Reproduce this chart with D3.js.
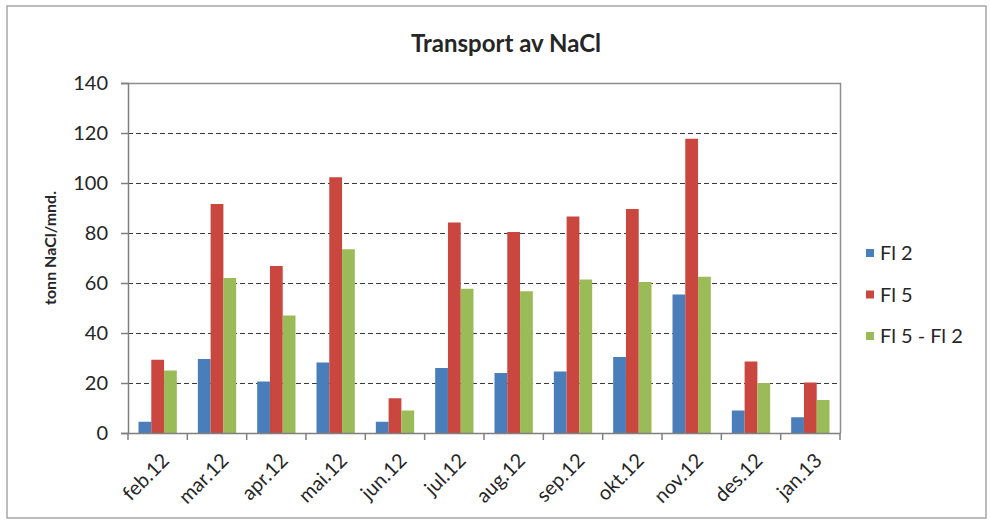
<!DOCTYPE html>
<html>
<head>
<meta charset="utf-8">
<script src="https://cdn.jsdelivr.net/npm/d3@7"></script>
<style>
  body { margin: 0; background: #fff; }
  text { font-family: Lato, "Open Sans", sans-serif; fill: #262626; }
</style>
</head>
<body>
<svg id="chart" width="990" height="522"></svg>
<script>
// data
const months = ["feb.12", "mar.12", "apr.12", "mai.12", "jun.12", "jul.12",
                "aug.12", "sep.12", "okt.12", "nov.12", "des.12", "jan.13"]
const seriesNames = ["Fl 2", "Fl 5", "Fl 5 - Fl 2"]
const fl2 = [4.5, 29.6, 20.6, 28.2, 4.5, 26, 24, 24.6, 30.4, 55.4, 9, 6.3]
const fl5 = [29.3, 91.6, 66.8, 102.3, 13.9, 84.2, 80.4, 86.6, 89.6, 117.7, 28.6, 20.2]
const diff = [25, 62, 47, 73.5, 9, 57.7, 56.7, 61.4, 60.4, 62.5, 20, 13.2]
const yTicks = [0, 20, 40, 60, 80, 100, 120, 140]
const colors = ["#4a7ebb", "#c9473f", "#9bbb59"]

const svg = d3.select("#chart")
const margin = { left: 128, top: 83, right: 840, bottom: 433 }

// outer frame
svg.append("rect")
    .attr("x", 7).attr("y", 6)
    .attr("width", 979).attr("height", 512)
    .attr("fill", "#fff")
    .attr("stroke", "#a6a6a6")
    .attr("stroke-width", 1.5)

const x0 = d3.scaleBand()
    .domain(months)
    .range([margin.left, margin.right])
const x1 = d3.scaleBand()
    .domain(seriesNames)
    .range([10.5, x0.bandwidth() - 10.5])
const y = d3.scaleLinear()
    .domain([0, 140])
    .range([margin.bottom, margin.top])

// title
svg.append("text")
    .attr("x", 506).attr("y", 52)
    .attr("text-anchor", "middle")
    .attr("font-size", 24)
    .attr("font-weight", "bold")
    .text("Transport av NaCl")

// gridlines
svg.append("g")
    .selectAll("line")
    .data(yTicks.filter(d => d > 0 && d < 140))
    .enter()
    .append("line")
    .attr("x1", margin.left).attr("x2", margin.right)
    .attr("y1", d => y(d) + 0.5).attr("y2", d => y(d) + 0.5)
    .attr("stroke", "#3a3a3a")
    .attr("stroke-width", 1.2)
    .attr("stroke-dasharray", "5,3")

// plot area border (top + right)
svg.append("path")
    .attr("d", `M${margin.left},${margin.top + 0.5}H${margin.right + 0.5}V${margin.bottom}`)
    .attr("fill", "none")
    .attr("stroke", "#8c8c8c")
    .attr("stroke-width", 1.5)

// bars
const rows = months.map((m, i) => ({ month: m, vals: [fl2[i], fl5[i], diff[i]] }))
svg.append("g")
    .selectAll("g")
    .data(rows)
    .enter()
    .append("g")
    .attr("transform", d => `translate(${x0(d.month)},0)`)
    .selectAll("rect")
    .data(d => d.vals.map((v, k) => ({ key: seriesNames[k], v: v, k: k })))
    .enter()
    .append("rect")
    .attr("x", d => x1(d.key))
    .attr("width", x1.bandwidth())
    .attr("y", d => y(d.v))
    .attr("height", d => y(0) - y(d.v))
    .attr("fill", d => colors[d.k])

// y axis
const yAxis = svg.append("g")
    .attr("transform", `translate(${margin.left},0)`)
    .call(d3.axisLeft(y).tickValues(yTicks).tickSize(7).tickPadding(13))
yAxis.select(".domain").attr("stroke", "#7f7f7f").attr("stroke-width", 1.5)
yAxis.selectAll(".tick line").attr("stroke", "#7f7f7f").attr("stroke-width", 1.5)
yAxis.selectAll(".tick text")
    .attr("font-size", 20)
    .attr("font-family", "Lato, sans-serif")
    .attr("fill", "#333")

// x axis
const xAxis = svg.append("g")
    .attr("transform", `translate(0,${margin.bottom})`)
    .call(d3.axisBottom(x0).tickSize(0).tickFormat(""))
xAxis.select(".domain").attr("stroke", "#7f7f7f").attr("stroke-width", 1.5)
svg.append("g")
    .selectAll("line")
    .data(months.concat(["end"]))
    .enter()
    .append("line")
    .attr("x1", (d, i) => margin.left + i * x0.step())
    .attr("x2", (d, i) => margin.left + i * x0.step())
    .attr("y1", margin.bottom)
    .attr("y2", margin.bottom + 7)
    .attr("stroke", "#7f7f7f")
    .attr("stroke-width", 1.5)

svg.append("g")
    .selectAll("text")
    .data(months)
    .enter()
    .append("text")
    .attr("transform", d => `translate(${x0(d) + x0.bandwidth() / 2 + 3},${margin.bottom + 19}) rotate(-45)`)
    .attr("text-anchor", "end")
    .attr("dy", "0.7em")
    .attr("font-size", 20)
    .attr("fill", "#333")
    .text(d => d)

// y axis title
svg.append("text")
    .attr("transform", `translate(56,${(margin.top + margin.bottom) / 2 - 10}) rotate(-90)`)
    .attr("text-anchor", "middle")
    .attr("font-size", 16)
    .attr("font-weight", "bold")
    .text("tonn NaCl/mnd.")

// legend
const legend = svg.append("g")
    .selectAll("g")
    .data(seriesNames)
    .enter()
    .append("g")
    .attr("transform", (d, i) => `translate(866,${253 + i * 41.5})`)
legend.append("rect")
    .attr("x", 0).attr("y", -4)
    .attr("width", 8).attr("height", 8)
    .attr("fill", (d, i) => colors[i])
legend.append("text")
    .attr("x", 14)
    .attr("dy", "0.35em")
    .attr("font-size", 20)
    .attr("fill", "#333")
    .text(d => d)
</script>
</body>
</html>
